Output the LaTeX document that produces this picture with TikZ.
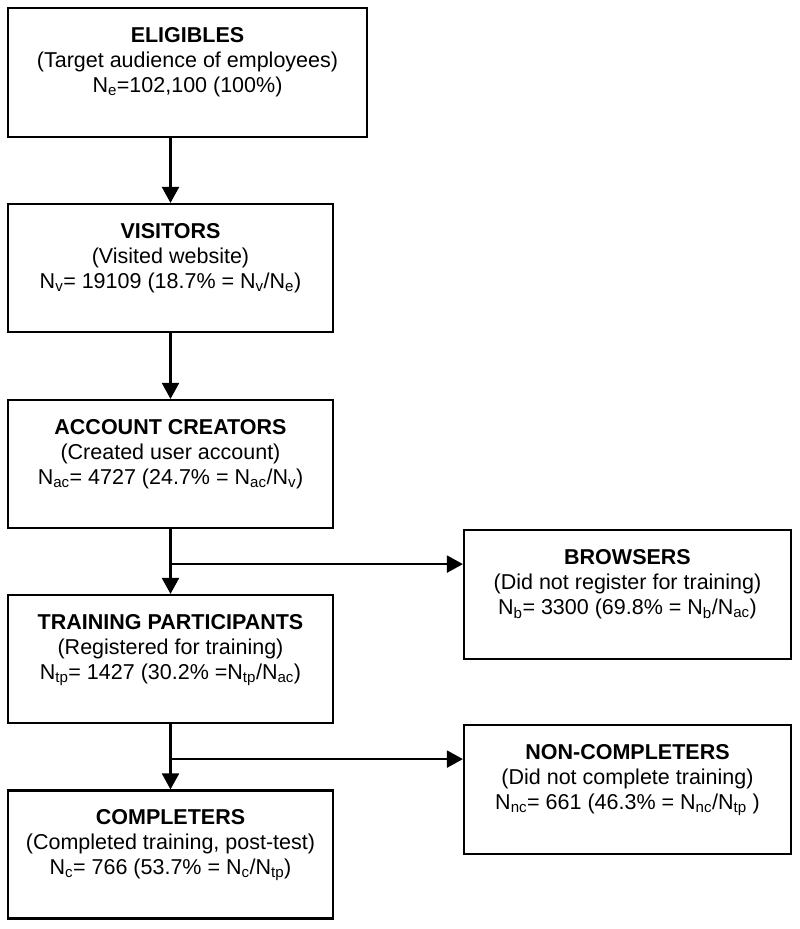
\documentclass[tikz,border=0pt]{standalone}
\usepackage{fontspec}
\setmainfont{Liberation Sans}
\usetikzlibrary{arrows.meta}

\newcommand{\ix}[1]{\textsubscript{#1}}

\tikzset{
  stage/.style={shape=rectangle,draw=black,line width=2.2pt,align=center,inner sep=0pt,
    font=\fontsize{21.5}{25}\selectfont},
  leftbox/.style={stage,minimum width=325pt,minimum height=128pt},
  rightbox/.style={stage,minimum width=327pt,minimum height=129pt},
  flow/.style={-{Triangle[width=17pt,length=16pt]},line width=2.2pt}
}

\begin{document}
\begin{tikzpicture}[x=1pt,y=-1pt]
\useasboundingbox (0,0) rectangle (800,929);

\node[stage,minimum width=359pt,minimum height=129pt] (E) at (187.5,72.5)
  {\textbf{ELIGIBLES}\\(Target audience of employees)\\N\ix{e}=102,100 (100\%)\\\mbox{}};
\node[leftbox] (V) at (170.5,268)
  {\textbf{VISITORS}\\(Visited website)\\N\ix{v}= 19109 (18.7\% = N\ix{v}/N\ix{e})\\\mbox{}};
\node[leftbox] (AC) at (170.5,464)
  {\textbf{ACCOUNT CREATORS}\\(Created user account)\\N\ix{ac}= 4727 (24.7\% = N\ix{ac}/N\ix{v})\\\mbox{}};
\node[leftbox] (TP) at (170.5,659)
  {\textbf{TRAINING PARTICIPANTS}\\(Registered for training)\\N\ix{tp}= 1427 (30.2\% =N\ix{tp}/N\ix{ac})\\\mbox{}};
\node[leftbox] (C) at (170.5,854.5)
  {\textbf{COMPLETERS}\\(Completed training, post-test)\\N\ix{c}= 766 (53.7\% = N\ix{c}/N\ix{tp})\\\mbox{}};

\node[rightbox] (B) at (627.5,594.5)
  {\textbf{BROWSERS}\\(Did not register for training)\\N\ix{b}= 3300 (69.8\% = N\ix{b}/N\ix{ac})\\\mbox{}};
\node[rightbox] (NC) at (627.5,789.5)
  {\textbf{NON-COMPLETERS}\\(Did not complete training)\\N\ix{nc}= 661 (46.3\% = N\ix{nc}/N\ix{tp} )\\\mbox{}};

% branch points
\path (AC.south) ++(0,35) coordinate (b1);
\path (TP.south) ++(0,35) coordinate (b2);

\draw[flow] (E.south -| V.north) -- (V.north);
\draw[flow] (V) -- (AC);
\draw[flow] (AC) -- (TP);
\draw[flow] (TP) -- (C);
\draw[flow] (b1) -- (b1 -| B.west);
\draw[flow] (b2) -- (b2 -| NC.west);

\end{tikzpicture}
\end{document}
